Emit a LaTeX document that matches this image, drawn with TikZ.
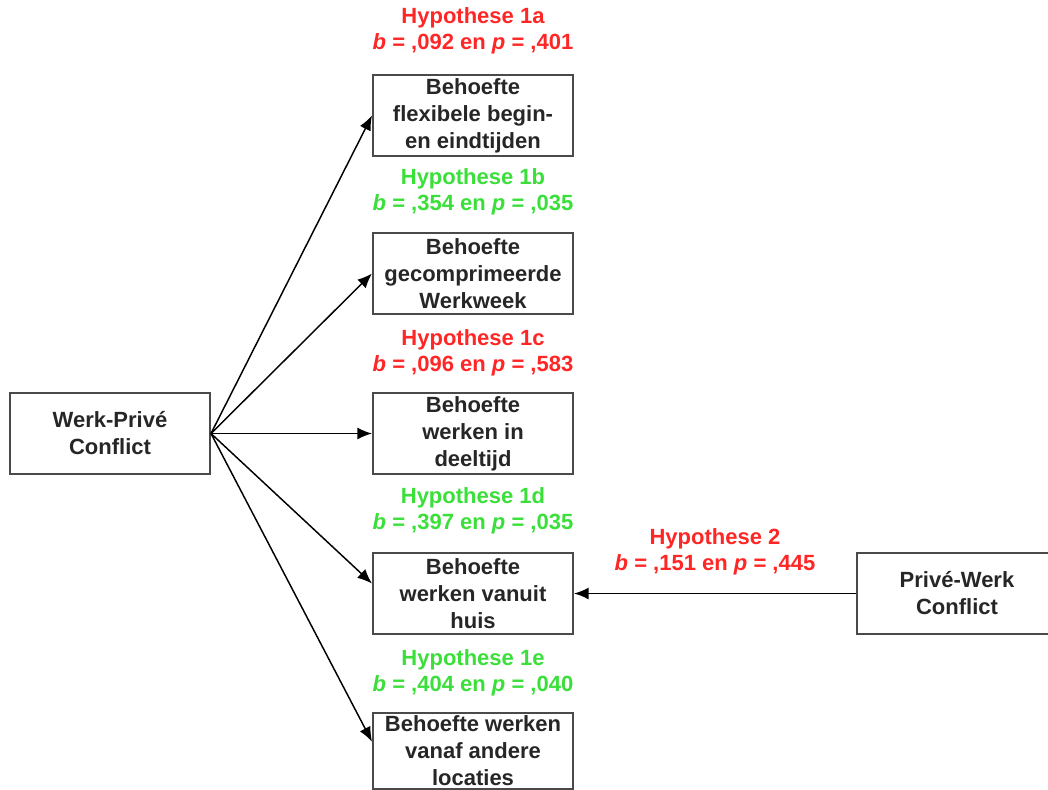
\documentclass[tikz,border=0pt]{standalone}
\usepackage{fontspec}
\setmainfont{Liberation Sans}
\usetikzlibrary{arrows.meta}
\definecolor{hred}{HTML}{FF2626}
\definecolor{hgreen}{HTML}{3ADF3A}
\definecolor{boxline}{HTML}{4A4A4A}
\definecolor{boxtext}{HTML}{262626}
\begin{document}
\begin{tikzpicture}[x=0.75pt,y=-0.75pt,
  box/.style={draw=boxline,line width=1.5pt,rectangle,minimum width=150pt,minimum height=60.75pt,
    align=center,inner sep=0pt,text=boxtext,font=\fontsize{16.5}{20.25}\selectfont\bfseries},
  hlab/.style={align=center,inner sep=0pt,font=\fontsize{16.5}{19.5}\selectfont\bfseries},
  arr/.style={-{Latex[length=11pt,width=9pt]},line width=1.1pt,black}]
\useasboundingbox (0,0) rectangle (1048,789);
\clip (0,0) rectangle (1048,789);
\node[box] (wp) at (110,433.5) {Werk-Privé\\Conflict};
\node[box] (b1) at (473,115.5) {Behoefte\\flexibele begin-\\en eindtijden};
\node[box] (b2) at (473,273.5) {Behoefte\\gecomprimeerde\\Werkweek};
\node[box] (b3) at (473,433.5) {Behoefte\\werken in\\deeltijd};
\node[box] (b4) at (473,593.5) {Behoefte\\werken vanuit\\huis};
\node[box,minimum height=57pt,anchor=north] (b5) at (473,712) {Behoefte werken\\vanaf andere\\locaties};
\node[box] (pw) at (957,593.5) {Privé-Werk\\Conflict};
\node[hlab,text=hred] (h1a) at (473,31) {Hypothese 1a\\\textit{b} = ,092 en \textit{p} = ,401};
\node[hlab,text=hgreen] (h1b) at (473,192) {Hypothese 1b\\\textit{b} = ,354 en \textit{p} = ,035};
\node[hlab,text=hred] (h1c) at (473,352.5) {Hypothese 1c\\\textit{b} = ,096 en \textit{p} = ,583};
\node[hlab,text=hgreen] (h1d) at (473,510.5) {Hypothese 1d\\\textit{b} = ,397 en \textit{p} = ,035};
\node[hlab,text=hgreen] (h1e) at (473,673) {Hypothese 1e\\\textit{b} = ,404 en \textit{p} = ,040};
\node[hlab,text=hred] (h2) at (715,552) {Hypothese 2\\\textit{b} = ,151 en \textit{p} = ,445};
\draw[arr] (wp.east) -- (b1.west);
\draw[arr] (wp.east) -- (b2.west);
\draw[arr] (wp.east) -- (b3.west);
\draw[arr] (wp.east) -- ([yshift=7.5pt]b4.west);
\draw[arr] (wp.east) -- ([yshift=7pt]b5.west);
\draw[arr] (pw.west) -- (b4.east);
\end{tikzpicture}
\end{document}
